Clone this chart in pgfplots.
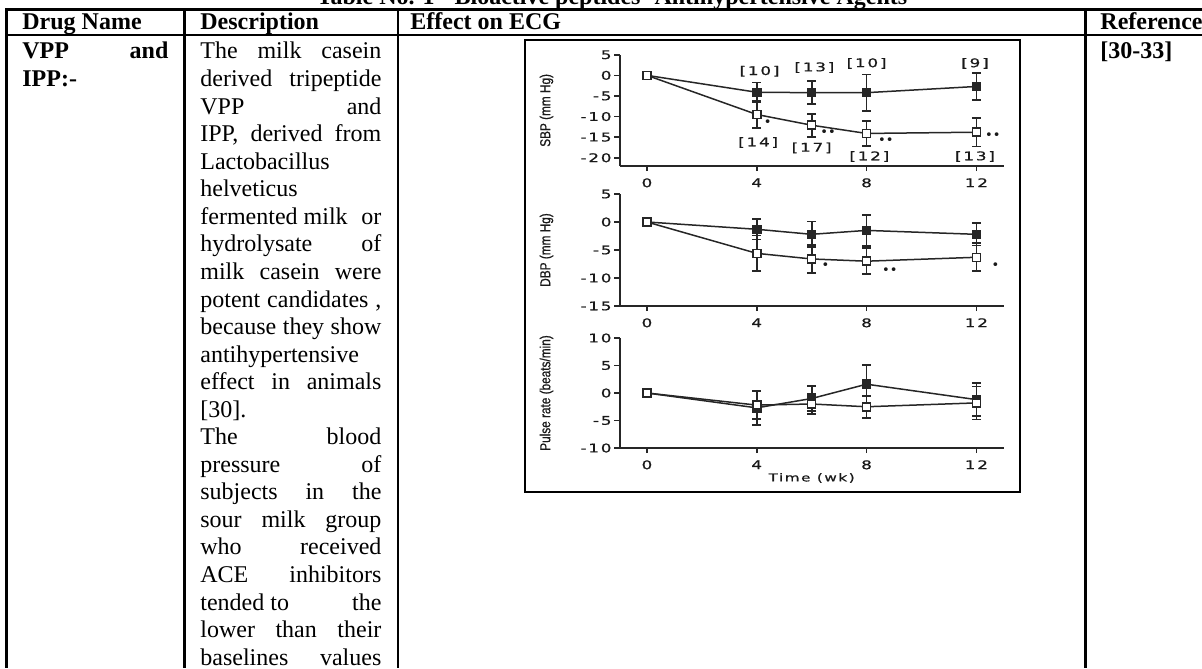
\documentclass[border=0pt]{standalone}
\usepackage{fontspec}
\setmainfont{Liberation Serif}
\newfontfamily\plotfont[FakeStretch=1.4,LetterSpace=15,FakeBold=0.8]{DejaVu Sans}
\newfontfamily\dotfont{DejaVu Sans}
\newfontfamily\labelfont[FakeStretch=0.82,FakeBold=0.8]{Liberation Sans}
\usepackage{pgfplots}
\pgfplotsset{compat=1.18}
\pgfplotsset{
  ecg/.style={
    scale only axis, width=192.15pt,
    xmin=-1, xmax=13,
    axis x line*=bottom, axis y line*=left,
    axis line style={line width=1pt, black!85},
    xtick={0,4,8,12}, xticklabels={0,4,8,12},
    tick align=outside, major tick length=2.6pt,
    tick style={line width=0.8pt, black!85},
    tick label style={font=\plotfont\fontsize{6}{7}\selectfont, text=black!90},
    yticklabel style={inner xsep=1.2pt},
    ylabel style={at={(axis description cs:-0.19,0.5)}, anchor=center, font=\labelfont\fontsize{7.2}{8}\selectfont, text=black!90},
    clip=false,
  },
  ctrl/.style={black!85, line width=0.75pt, mark=square*, mark size=2pt,
    mark options={fill=black!85, solid},
    error bars/.cd, y dir=both, y explicit,
    error bar style={line width=0.85pt, black!85},
    error mark options={rotate=90, mark size=2.2pt, line width=0.85pt, black!85}},
  trt/.style={black!85, line width=0.75pt, mark=square*, mark size=2pt,
    mark options={fill=white, solid},
    error bars/.cd, y dir=both, y explicit,
    error bar style={line width=0.85pt, black!85},
    error mark options={rotate=90, mark size=2.2pt, line width=0.85pt, black!85}},
}
\tikzset{ann/.style={font=\plotfont\fontsize{6}{7}\selectfont, text=black!90, inner sep=0},
  dots/.style={font=\dotfont\fontsize{6.5}{7}\selectfont, text=black!90, inner sep=0}}
\newcommand\tf{\fontsize{12}{13.8}\selectfont}
\newcommand\jline[2]{\node[anchor=base west,inner sep=0,font=\tf] at (200,-#1) {\makebox[90.5pt][s]{#2}};}
\newcommand\lline[2]{\node[anchor=base west,inner sep=0,font=\tf] at (200,-#1) {#2};}
\begin{document}
\begin{tikzpicture}[x=0.5pt,y=0.5pt]
\useasboundingbox (0,0) rectangle (1202,-668);
\clip (0,0) rectangle (1202,-668);
% title (cut off at the top, as in the reference)
\node[anchor=base,inner sep=0,font=\tf\bfseries] at (612,-5) {Table No. 1 - Bioactive peptides -Antihypertensive Agents};
% table rules
\draw[line width=1.2pt] (5,-9.5) -- (1202,-9.5);
\draw[line width=1.4pt] (5,-35) -- (1202,-35);
\foreach \x in {6.5,184.5,398,1085.5} \draw[line width=1.1pt] (\x,-9.5) -- (\x,-668);
% header
\node[anchor=base west,inner sep=0,font=\tf\bfseries] at (22,-30) {Drug Name};
\node[anchor=base west,inner sep=0,font=\tf\bfseries] at (200,-30) {Description};
\node[anchor=base west,inner sep=0,font=\tf\bfseries] at (410,-30) {Effect on ECG};
\node[anchor=base west,inner sep=0,font=\tf\bfseries] at (1100,-30) {Reference};
% drug name
\node[anchor=base west,inner sep=0,font=\tf\bfseries] at (22,-59) {\makebox[73pt][s]{VPP and}};
\node[anchor=base west,inner sep=0,font=\tf\bfseries] at (22,-86.6) {IPP:-};
% reference
\node[anchor=base west,inner sep=0,font=\tf\bfseries] at (1100,-59) {[30-33]};
% description
\jline{59}{The milk casein}
\jline{86.6}{derived tripeptide}
\jline{114.1}{VPP and}
\jline{141.7}{IPP, derived from}
\lline{169.2}{Lactobacillus}
\lline{196.8}{helveticus}
\jline{224.3}{fermented milk\hfill or}
\jline{251.9}{hydrolysate of}
\jline{279.4}{milk casein were}
\jline{307}{potent candidates ,}
\jline{334.5}{because they show}
\lline{362.1}{antihypertensive}
\jline{389.6}{effect in animals}
\lline{417.2}{[30].}
\jline{444.7}{The blood}
\jline{472.3}{pressure of}
\jline{499.8}{subjects in the}
\jline{527.4}{sour milk group}
\jline{554.9}{who received}
\jline{582.5}{ACE inhibitors}
\jline{610}{tended to\hfill the}
\jline{637.6}{lower than their}
\jline{665.1}{baselines values}
% figure frame
\draw[line width=1pt] (525,-40) rectangle (1020,-492);

% SBP
\begin{axis}[ecg, at={(309.75pt,-83pt)}, anchor=south west, height=55.62pt,
  ymin=-22, ymax=5, ytick={-20,-15,-10,-5,0,5}, yticklabels={-20,-15,-10,-5,0,5},
  ylabel={SBP (mm Hg)}]
\addplot[ctrl] coordinates {(0,0) +- (0,0) (4,-4.1) +- (0,2.4) (6,-4.2) +- (0,2.8) (8,-4.2) +- (0,4.4) (12,-2.7) +- (0,3.2)};
\addplot[trt] coordinates {(0,0) +- (0,0) (4,-9.5) +- (0,3.2) (6,-12.1) +- (0,2.8) (8,-14.1) +- (0,3.0) (12,-13.8) +- (0,3.5)};
\node[ann] at (axis cs:4.1,1.0) {[10]};
\node[ann] at (axis cs:6.1,1.9) {[13]};
\node[ann] at (axis cs:8.0,2.9) {[10]};
\node[ann] at (axis cs:11.95,2.9) {[9]};
\node[ann] at (axis cs:4.05,-16.3) {[14]};
\node[ann] at (axis cs:6.0,-17.6) {[17]};
\node[ann] at (axis cs:8.1,-19.7) {[12]};
\node[ann] at (axis cs:11.95,-19.7) {[13]};
\node[dots] at (axis cs:4.4,-11.6) {•};
\node[dots] at (axis cs:6.6,-14.1) {••};
\node[dots] at (axis cs:8.7,-16.0) {••};
\node[dots] at (axis cs:12.6,-14.8) {••};
\end{axis}

% DBP
\begin{axis}[ecg, at={(309.75pt,-153pt)}, anchor=south west, height=56pt,
  ymin=-15, ymax=5, ytick={-15,-10,-5,0,5}, yticklabels={-15,-10,-5,0,5},
  ylabel={DBP (mm Hg)}]
\addplot[ctrl] coordinates {(0,0) +- (0,0) (4,-1.3) +- (0,1.8) (6,-2.2) +- (0,2.3) (8,-1.5) +- (0,2.8) (12,-2.2) +- (0,2.0)};
\addplot[trt] coordinates {(0,0) +- (0,0) (4,-5.6) +- (0,3.2) (6,-6.6) +- (0,2.5) (8,-7.0) +- (0,2.3) (12,-6.3) +- (0,2.5)};
\node[dots] at (axis cs:6.5,-7.9) {•};
\node[dots] at (axis cs:8.85,-8.75) {••};
\node[dots] at (axis cs:12.7,-7.9) {•};
\end{axis}

% Pulse
\begin{axis}[ecg, at={(309.75pt,-224pt)}, anchor=south west, height=55pt,
  ymin=-10, ymax=10, ytick={-10,-5,0,5,10}, yticklabels={-10,-5,0,5,10},
  ylabel={Pulse rate (beats/min)},
  xlabel={Time (wk)},
  xlabel style={at={(axis description cs:0.5,0)}, anchor=center, yshift=-15pt, font=\plotfont\fontsize{5.4}{6}\selectfont, text=black!90}]
\addplot[ctrl] coordinates {(0,0) +- (0,0) (4,-2.7) +- (0,3.1) (6,-1.0) +- (0,2.3) (8,1.6) +- (0,3.5) (12,-1.2) +- (0,3.0)};
\addplot[trt] coordinates {(0,0) +- (0,0) (4,-2.2) +- (0,2.5) (6,-2.0) +- (0,1.8) (8,-2.5) +- (0,2.0) (12,-1.8) +- (0,3.0)};
\end{axis}
\end{tikzpicture}
\end{document}
